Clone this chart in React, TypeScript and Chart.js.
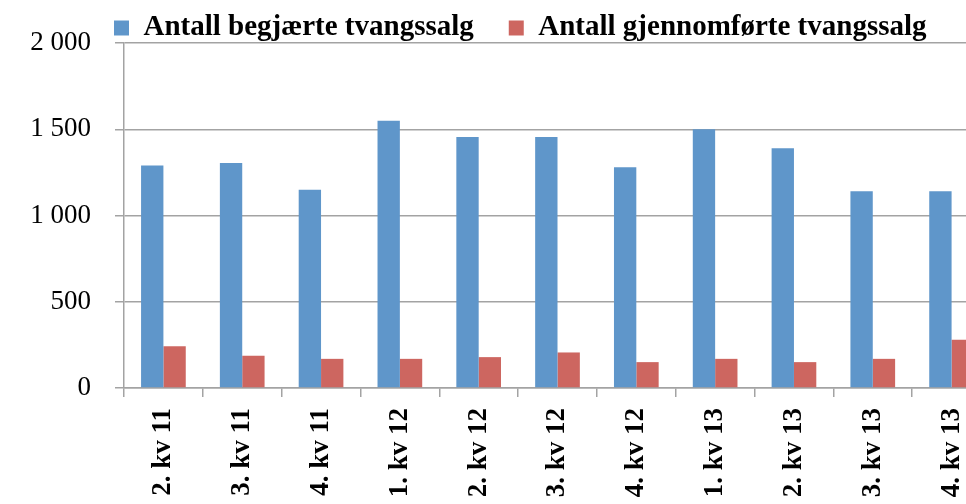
import React, { useEffect, useRef } from 'react';
import { Chart, registerables } from 'chart.js';

Chart.register(...registerables);

const categories = [
  '2. kv 11', '3. kv 11', '4. kv 11',
  '1. kv 12', '2. kv 12', '3. kv 12', '4. kv 12',
  '1. kv 13', '2. kv 13', '3. kv 13', '4. kv 13',
];
const requestedSales = [1290, 1305, 1150, 1550, 1455, 1455, 1280, 1500, 1390, 1140, 1140];
const completedSales = [242, 187, 169, 169, 179, 206, 150, 169, 150, 169, 280];
const seriesNames = ['Antall begjærte tvangssalg', 'Antall gjennomførte tvangssalg'];
const yTickValues = [0, 500, 1000, 1500, 2000];
const yTickLabels = ['0', '500', '1 000', '1 500', '2 000'];

const FONT = "'Liberation Serif', 'Times New Roman', serif";
const GRID = '#a3a3a3';

const legendShift = {
  id: 'legendShift',
  afterLayout(chart: any) {
    const lg = chart.legend;
    if (!lg) return;
    lg.left += 79;
    lg.right += 79;
    lg.top -= 21.5;
    lg.bottom = 60;
  },
};

export default function App() {
  const ref = useRef<HTMLCanvasElement | null>(null);

  useEffect(() => {
    if (!ref.current) return;
    const chart = new Chart(ref.current, {
      type: 'bar',
      data: {
        labels: categories,
        datasets: [
          {
            label: seriesNames[0],
            data: requestedSales,
            backgroundColor: '#5f96ca',
            borderWidth: 0,
            barPercentage: 1,
            categoryPercentage: 0.567,
          },
          {
            label: seriesNames[1],
            data: completedSales,
            backgroundColor: '#cd6660',
            borderWidth: 0,
            barPercentage: 1,
            categoryPercentage: 0.567,
          },
        ],
      },
      options: {
        responsive: false,
        animation: false,
        devicePixelRatio: 1,
        layout: { padding: { left: 0, right: 9, top: 0, bottom: 0 } },
        plugins: {
          legend: {
            position: 'top',
            align: 'start',
            maxHeight: 43,
            labels: {
              boxWidth: 15,
              boxHeight: 15,
              padding: 35,
              color: '#000',
              font: { family: FONT, size: 29, weight: 'bold' },
            },
          },
          tooltip: { enabled: false },
        },
        scales: {
          x: {
            afterFit(scale: any) { scale.height = 116; },
            grid: {
              offset: true,
              drawOnChartArea: false,
              drawTicks: true,
              tickLength: 9,
              color: GRID,
              lineWidth: 1.5,
            },
            border: { display: true, color: GRID, width: 1.5 },
            ticks: {
              autoSkip: false,
              minRotation: 90,
              maxRotation: 90,
              padding: 11,
              color: '#000',
              font: { family: FONT, size: 27, weight: 'bold' },
            },
          },
          y: {
            min: 0,
            max: 2000,
            afterFit(scale: any) { scale.width = 124; },
            afterBuildTicks(scale: any) {
              scale.ticks = yTickValues.map((v) => ({ value: v }));
            },
            grid: {
              drawTicks: true,
              tickLength: 9,
              color: GRID,
              lineWidth: 1.5,
            },
            border: { display: true, color: GRID, width: 1.5 },
            ticks: {
              padding: 24,
              color: '#000',
              font: { family: FONT, size: 27 },
              callback: (value: any) => {
                const i = yTickValues.indexOf(Number(value));
                return i >= 0 ? yTickLabels[i] : '';
              },
            },
          },
        },
      },
      plugins: [legendShift],
    } as any);
    return () => chart.destroy();
  }, []);

  return (
    <div style={{ position: 'fixed', left: 0, top: 0, width: 966, height: 504, overflow: 'hidden', background: '#fff' }}>
      <canvas ref={ref} width={1000} height={504} style={{ display: 'block', width: 1000, height: 504 }} />
    </div>
  );
}
